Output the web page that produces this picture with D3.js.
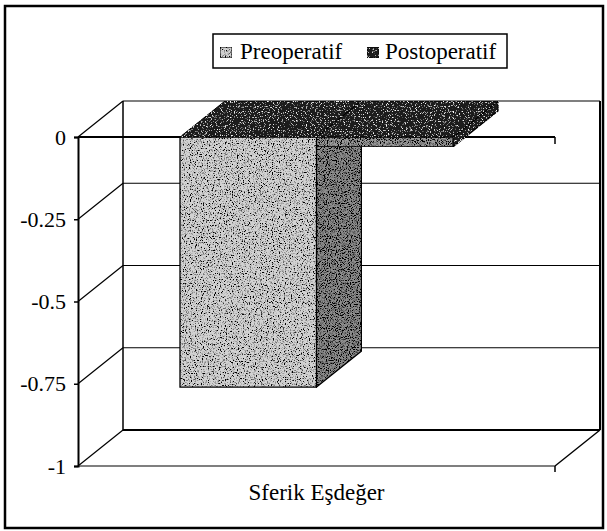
<!DOCTYPE html>
<html><head><meta charset="utf-8">
<script src="https://cdn.jsdelivr.net/npm/d3@7/dist/d3.min.js"></script>
<style>body{margin:0;background:#fff}svg{display:block}</style>
</head><body>
<script>
// ---- data ----
const categories = ["Sferik Eşdeğer"];
const seriesNames = ["Preoperatif", "Postoperatif"];
const preopValues = [-0.76];
const postopValues = [-0.03];
const yTickValues = [0, -0.25, -0.5, -0.75, -1];
const yTickLabels = ["0", "-0.25", "-0.5", "-0.75", "-1"];

const W = 607, H = 531;
const FONT = '"Liberation Serif"';
const svg = d3.select("body").append("svg").attr("width", W).attr("height", H);

// textures (dither-like speckle)
const defs = svg.append("defs");
function speckle(id, freq, dark, amount, offset, seed) {
  const f = defs.append("filter").attr("id", id).attr("x", 0).attr("y", 0).attr("width", 1).attr("height", 1);
  f.append("feTurbulence").attr("type", "fractalNoise").attr("baseFrequency", freq).attr("numOctaves", 2).attr("seed", seed).attr("result", "n");
  f.append("feColorMatrix").attr("in", "n").attr("type", "matrix")
    .attr("values", `0 0 0 0 ${dark} 0 0 0 0 ${dark} 0 0 0 0 ${dark} ${amount} 0 0 0 ${offset}`).attr("result", "s");
  f.append("feComposite").attr("in", "s").attr("in2", "SourceGraphic").attr("operator", "atop");
}
speckle("tLight", 0.83, 0, 5, -2.5, 3);
speckle("tSide", 0.91, 0, 5, -2.2, 5);
speckle("tDark", 0.79, 1, 5, -2.95, 7);

// ---- scales ----
const y = d3.scaleLinear().domain([-1, 0]).range([466, 137]);
const x0 = d3.scaleBand().domain(categories).range([78, 555]).paddingInner(0).paddingOuter(0.3736);
const x1 = d3.scaleBand().domain(seriesNames).range([0, x0.bandwidth()]);
const DX = 45, DY = -36; // depth projection

const g = svg.append("g");

// outer frame
g.append("rect").attr("x", 5).attr("y", 6).attr("width", 598).attr("height", 522)
  .attr("fill", "none").attr("stroke", "#000").attr("stroke-width", 2.5);

const xL = x0.range()[0], xR = x0.range()[1];
yTickValues.forEach(v => {
  g.append("line").attr("x1", xL + DX).attr("x2", xR + DX).attr("y1", y(v) + DY).attr("y2", y(v) + DY)
    .attr("stroke", "#000").attr("stroke-width", v === -1 ? 2 : 1.2);
  g.append("line").attr("x1", xL).attr("y1", y(v)).attr("x2", xL + DX).attr("y2", y(v) + DY)
    .attr("stroke", "#000").attr("stroke-width", 1.3);
});
g.append("line").attr("x1", xL + DX).attr("x2", xL + DX).attr("y1", y(0) + DY).attr("y2", y(-1) + DY).attr("stroke", "#000").attr("stroke-width", 1.5);
g.append("line").attr("x1", xR + DX).attr("x2", xR + DX).attr("y1", y(0) + DY).attr("y2", y(-1) + DY).attr("stroke", "#000").attr("stroke-width", 2);
g.append("line").attr("x1", xR).attr("y1", y(-1)).attr("x2", xR + DX).attr("y2", y(-1) + DY).attr("stroke", "#000").attr("stroke-width", 1.5);
g.append("line").attr("x1", xL).attr("x2", xR).attr("y1", y(-1)).attr("y2", y(-1)).attr("stroke", "#555").attr("stroke-width", 1.5);
g.append("line").attr("x1", xR).attr("x2", xR).attr("y1", y(-1)).attr("y2", y(-1) + 6).attr("stroke", "#000").attr("stroke-width", 1.5);
g.append("line").attr("x1", xL).attr("x2", xR).attr("y1", y(0)).attr("y2", y(0)).attr("stroke", "#000").attr("stroke-width", 1.8);
g.append("line").attr("x1", xR).attr("x2", xR).attr("y1", y(0)).attr("y2", y(0) + 7).attr("stroke", "#000").attr("stroke-width", 1.5);

// ---- bars ----
function bar(cat, ser, v, front, side, top) {
  const xa = x0(cat) + x1(ser), xb = xa + x1.bandwidth();
  const y0 = y(0), yv = y(v);
  const pts = a => a.map(p => p.join(",")).join(" ");
  const gb = g.append("g");
  gb.append("polygon").attr("points", pts([[xa, y0], [xb, y0], [xb, yv], [xa, yv]]))
    .attr("fill", front.c).attr("filter", `url(#${front.t})`).attr("stroke", "#000").attr("stroke-width", 1.3);
  gb.append("polygon").attr("points", pts([[xb, y0], [xb + DX, y0 + DY], [xb + DX, yv + DY], [xb, yv]]))
    .attr("fill", side.c).attr("filter", `url(#${side.t})`).attr("stroke", "#000").attr("stroke-width", 1.3);
  gb.append("polygon").attr("points", pts([[xa, y0], [xa + DX, y0 + DY], [xb + DX, y0 + DY], [xb, y0]]))
    .attr("fill", top.c).attr("filter", `url(#${top.t})`).attr("stroke", "#000").attr("stroke-width", 1);
}
categories.forEach((c, i) => {
  bar(c, seriesNames[0], preopValues[i], {c: "#d2d2d2", t: "tLight"}, {c: "#8e8e8e", t: "tSide"}, {c: "#1c1c1c", t: "tDark"});
  bar(c, seriesNames[1], postopValues[i], {c: "#9a9a9a", t: "tSide"}, {c: "#1c1c1c", t: "tDark"}, {c: "#1c1c1c", t: "tDark"});
});

// ---- axes ----
const yAxis = d3.axisLeft(y).tickValues(yTickValues).tickFormat((d, i) => yTickLabels[i]).tickSize(4).tickPadding(8);
const ya = svg.append("g").attr("transform", `translate(${xL},0)`).call(yAxis);
ya.attr("font-family", null).attr("font-size", null);
ya.select(".domain").attr("stroke", "#000").attr("stroke-width", 2);
ya.selectAll(".tick line").attr("stroke", "#000").attr("stroke-width", 1.5);
ya.selectAll("text").style("font-family", FONT).style("font-size", "22px").attr("fill", "#000");

const xAxis = d3.axisBottom(x0).tickSize(0).tickPadding(18);
const xa = svg.append("g").attr("transform", `translate(0,${y(-1)})`).call(xAxis);
xa.attr("font-family", null).attr("font-size", null);
xa.select(".domain").remove();
xa.selectAll("text").style("font-family", FONT).style("font-size", "23px").attr("fill", "#000");

// ---- legend ----
const lg = svg.append("g");
lg.append("rect").attr("x", 213).attr("y", 34).attr("width", 294).attr("height", 34)
  .attr("fill", "#fff").attr("stroke", "#000").attr("stroke-width", 1.5);
const legendItems = [
  {name: seriesNames[0], sx: 220, tx: 240, c: "#d2d2d2", t: "tLight"},
  {name: seriesNames[1], sx: 367, tx: 385, c: "#1c1c1c", t: "tDark"}
];
legendItems.forEach(d => {
  lg.append("rect").attr("x", d.sx).attr("y", 47).attr("width", 12).attr("height", 11)
    .attr("fill", d.c).attr("filter", `url(#${d.t})`).attr("stroke", "#000").attr("stroke-width", 1);
  lg.append("text").attr("x", d.tx).attr("y", 59).text(d.name)
    .style("font-family", FONT).style("font-size", "23px").attr("fill", "#000");
});
</script>
</body></html>
